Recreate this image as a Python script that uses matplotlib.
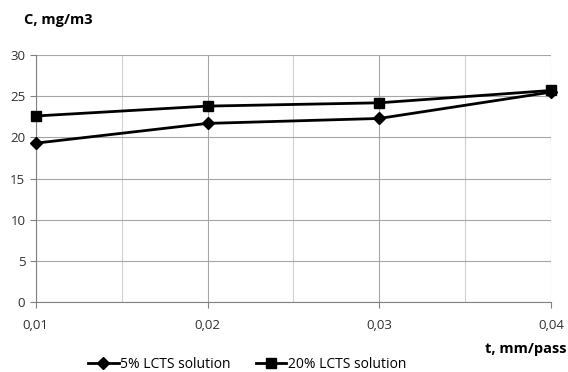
import numpy as np
import matplotlib
matplotlib.use('Agg')
import matplotlib.pyplot as plt

# data
t = [0.01, 0.02, 0.03, 0.04]
c_5 = [19.3, 21.7, 22.3, 25.5]
c_20 = [22.6, 23.8, 24.2, 25.7]
labels = ['5% LCTS solution', '20% LCTS solution']

plt.rcParams['font.family'] = ['Open Sans', 'DejaVu Sans']
plt.rcParams['font.size'] = 9.5

fig = plt.figure(figsize=(5.68, 3.72), dpi=100)
ax = fig.add_axes([0.063, 0.188, 0.907, 0.664])

ax.plot(t, c_5, color='black', lw=2, marker='D', ms=6, label=labels[0], clip_on=False, zorder=3)
ax.plot(t, c_20, color='black', lw=2, marker='s', ms=7.5, label=labels[1], clip_on=False, zorder=3)

ax.set_xlim(0.01, 0.04)
ax.set_ylim(0, 30)
ax.set_yticks(np.arange(0, 31, 5))
ax.set_xticks([0.01, 0.02, 0.03, 0.04])
ax.set_xticklabels(['0,01', '0,02', '0,03', '0,04'])
ax.set_xticks([0.015, 0.025, 0.035], minor=True)

ax.grid(True, which='major', color='#a6a6a6', lw=0.8)
ax.grid(True, which='minor', axis='x', color='#d0d0d0', lw=0.8)
ax.set_axisbelow(True)
for s in ['top', 'right']:
    ax.spines[s].set_visible(False)
for s in ['left', 'bottom']:
    ax.spines[s].set_color('#808080')
ax.tick_params(which='major', length=4, color='#808080', colors='#303030')
ax.tick_params(axis='x', which='major', pad=8)
ax.tick_params(which='minor', length=0)

fig.text(0.042, 0.945, 'C, mg/m3', fontweight='bold', fontsize=10.5, ha='left', va='center')
fig.text(0.997, 0.062, 't, mm/pass', fontweight='bold', fontsize=10.5, ha='right', va='center')

fig.legend(loc='center', bbox_to_anchor=(0.435, 0.02), ncol=2, frameon=False,
           handlelength=2.2, columnspacing=1.8, handletextpad=0.1, fontsize=10)

fig.savefig('out.png', dpi=100)
